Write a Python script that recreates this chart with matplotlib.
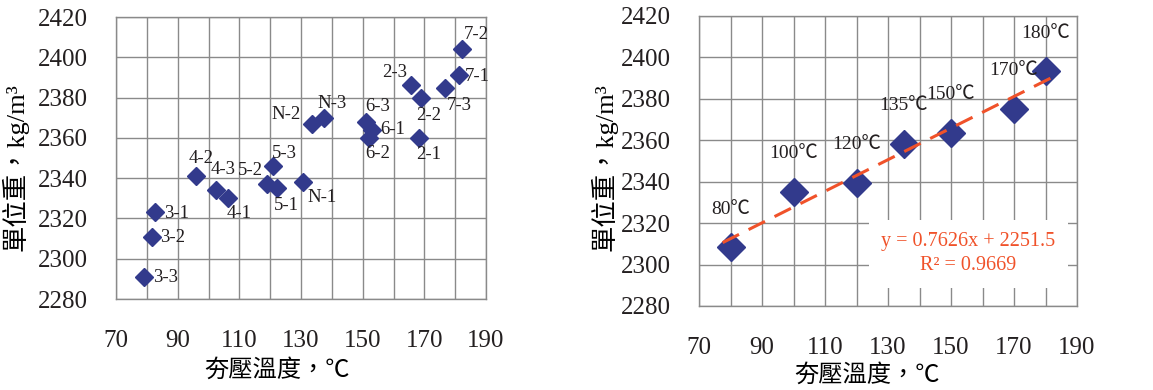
import numpy as np
import matplotlib
matplotlib.use('Agg')
import matplotlib.pyplot as plt
import matplotlib.ticker as ticker
from matplotlib import rcParams

textcolor = '#231f20'
gridcolor = '#8a8a8a'
markcolor = '#323a8c'
trendcolor = '#f0522a'
serif = ['Liberation Serif', 'Noto Sans CJK TC']

rcParams['font.family'] = serif
rcParams['text.color'] = textcolor
rcParams['xtick.color'] = textcolor
rcParams['ytick.color'] = textcolor

# Data: left panel (specimen groups)
left_names = ['3-3', '3-2', '3-1', '4-2', '4-3', '4-1', '5-2', '5-3', '5-1',
              'N-1', 'N-2', 'N-3', '6-3', '6-1', '6-2', '2-3', '2-2', '2-1',
              '7-3', '7-1', '7-2']
left_temp = [79.1, 81.6, 82.8, 95.9, 102.3, 106.4, 118.9, 121.0, 122.1,
             130.5, 133.5, 137.5, 151.0, 152.9, 151.9, 165.7, 168.8, 168.4,
             176.7, 181.2, 182.1]
left_weight = [2291, 2311, 2323, 2341, 2334, 2330, 2337, 2346, 2335,
               2338, 2367, 2370, 2368, 2364, 2360, 2386, 2380, 2360,
               2385, 2391, 2404]

# Data: right panel (averages per temperature)
right_names = ['80℃', '100℃', '120℃', '135℃', '150℃', '170℃', '180℃']
right_temp = [80, 100, 120, 135, 150, 170, 180]
right_weight = [2308.4, 2335.1, 2339.5, 2358.4, 2363.6, 2375.2, 2393.3]

trend_slope = 0.7626
trend_icept = 2251.5
trend_r2 = 0.9669
trend_span = [77.5, 182.5]

x_ticks = [70, 90, 110, 130, 150, 170, 190]
y_ticks = [2280, 2300, 2320, 2340, 2360, 2380, 2400, 2420]

# label placement for the left panel: (dx px, dy px, ha)
left_offsets = {
    '3-3': (9, -1, 'left'), '3-2': (8, -1, 'left'), '3-1': (9, -1, 'left'),
    '4-2': (-7, 18, 'left'), '4-3': (-5, 21, 'left'), '4-1': (-2, -15, 'left'),
    '5-2': (-4, 14, 'right'), '5-3': (-1, 13, 'left'), '5-1': (-3, -17, 'left'),
    'N-1': (5, -15, 'left'), 'N-2': (-11, 9, 'right'), 'N-3': (-7, 14, 'left'),
    '6-3': (-1, 15, 'left'), '6-1': (9, 0, 'left'), '6-2': (-3, -16, 'left'),
    '2-3': (-4, 13, 'right'), '2-2': (-5, -18, 'left'), '2-1': (-3, -17, 'left'),
    '7-3': (2, -18, 'left'), '7-1': (6, -1, 'left'), '7-2': (2, 15, 'left'),
}

fig = plt.figure(figsize=(11.53, 3.90), dpi=100)
ax1 = fig.add_axes([116 / 1153, 91 / 390, 370 / 1153, 282 / 390])
ax2 = fig.add_axes([699 / 1153, 84 / 390, 378 / 1153, 290 / 390])

px = 0.72  # points per pixel


def style(ax):
    ax.set_xlim(70, 190)
    ax.set_ylim(2280, 2420)
    ax.xaxis.set_major_locator(ticker.FixedLocator(x_ticks))
    ax.xaxis.set_minor_locator(ticker.MultipleLocator(10))
    ax.yaxis.set_major_locator(ticker.FixedLocator(y_ticks))
    ax.grid(which='both', color=gridcolor, linewidth=1.0)
    ax.set_axisbelow(True)
    for s in ax.spines.values():
        s.set_color(gridcolor)
        s.set_linewidth(1.0)
    ax.tick_params(which='both', length=0, labelsize=18)
    ax.tick_params(axis='y', pad=20)
    ax.tick_params(axis='x', pad=22)
    ax.set_xlabel('夯壓溫度，℃', fontsize=17.5, family=serif)
    ax.set_ylabel('單位重，kg/m³', fontsize=19, family=serif)


style(ax1)
style(ax2)
ax1.xaxis.set_label_coords(0.435, -0.214)
ax1.yaxis.set_label_coords(-0.236, 0.468)
ax2.xaxis.set_label_coords(0.444, -0.200)
ax2.yaxis.set_label_coords(-0.215, 0.479)

# Left panel
ax1.plot(left_temp, left_weight, linestyle='none', marker='D',
         markersize=9, color=markcolor, zorder=3)
for name, xv, yv in zip(left_names, left_temp, left_weight):
    dx, dy, ha = left_offsets[name]
    ax1.annotate(name, (xv, yv), xytext=(dx * px, dy * px),
                 textcoords='offset points', ha=ha, va='center',
                 fontsize=13.5, family=serif)

# Right panel
ax2.plot(right_temp, right_weight, linestyle='none', marker='D',
         markersize=14, color=markcolor, zorder=3)
tx = np.array(trend_span)
ax2.plot(tx, trend_slope * tx + trend_icept, linestyle=(0, (6, 3.5)),
         color=trendcolor, linewidth=2.2, zorder=4)
for name, xv, yv in zip(right_names, right_temp, right_weight):
    ax2.annotate(name, (xv, yv), xytext=(0, 38 * px),
                 textcoords='offset points', ha='center', va='center',
                 fontsize=14, family=serif)

ax2.text(0.712, 0.18,
         'y = {:.4f}x + {:.1f}\nR² = {:.4f}'.format(trend_slope, trend_icept, trend_r2),
         transform=ax2.transAxes, ha='center', va='center', color=trendcolor,
         fontsize=14.5, family=serif, linespacing=1.35, zorder=5,
         bbox=dict(facecolor='white', edgecolor='none', pad=9))

fig.savefig('out.png', dpi=100)
